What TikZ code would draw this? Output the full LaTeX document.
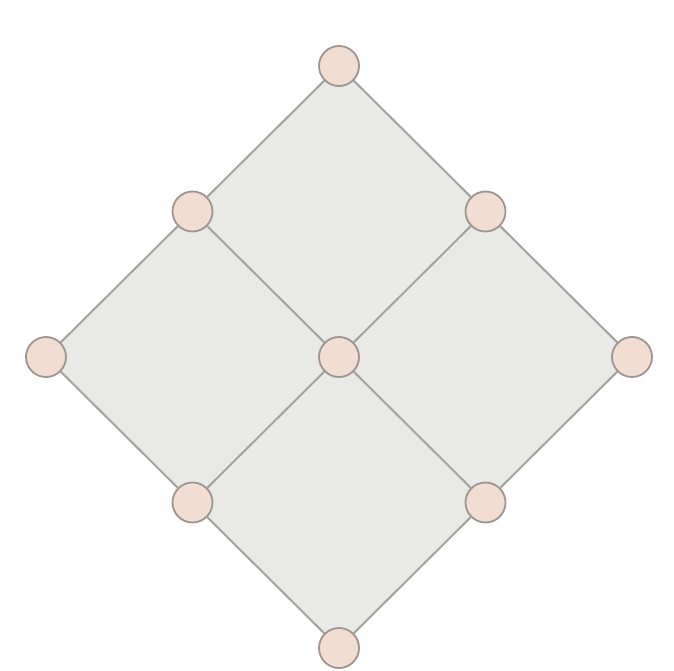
\documentclass[tikz,border=0pt]{standalone}
\definecolor{cellfill}{HTML}{E9E9E6}
\definecolor{edgecol}{HTML}{A3A3A0}
\definecolor{dotfill}{HTML}{F2DDD2}
\definecolor{dotline}{HTML}{9E9490}
\tikzset{
  vtx/.style={circle, minimum size=40pt, inner sep=0pt, fill=dotfill, draw=dotline, line width=1.8pt},
  edge/.style={draw=edgecol, line width=2pt}
}
\begin{document}
\begin{tikzpicture}[x=1pt,y=-1pt]
\useasboundingbox (0,0) rectangle (674,671);
\coordinate (p00) at (339,66);
\coordinate (p01) at (485.5,211.5);
\coordinate (p02) at (632,357);
\coordinate (p10) at (192.5,211.5);
\coordinate (p11) at (339,357);
\coordinate (p12) at (485.5,502.5);
\coordinate (p20) at (46,357);
\coordinate (p21) at (192.5,502.5);
\coordinate (p22) at (339,648);
\fill[cellfill] (p00) -- (p02) -- (p22) -- (p20) -- cycle;
\foreach \n in {p00,p01,p02,p10,p11,p12,p20,p21,p22}
  \node[vtx] (v\n) at (\n) {};
\foreach \a/\b in {p00/p01,p01/p02,p10/p11,p11/p12,p20/p21,p21/p22,
                   p00/p10,p10/p20,p01/p11,p11/p21,p02/p12,p12/p22}
  \draw[edge] (v\a) -- (v\b);
\end{tikzpicture}
\end{document}
